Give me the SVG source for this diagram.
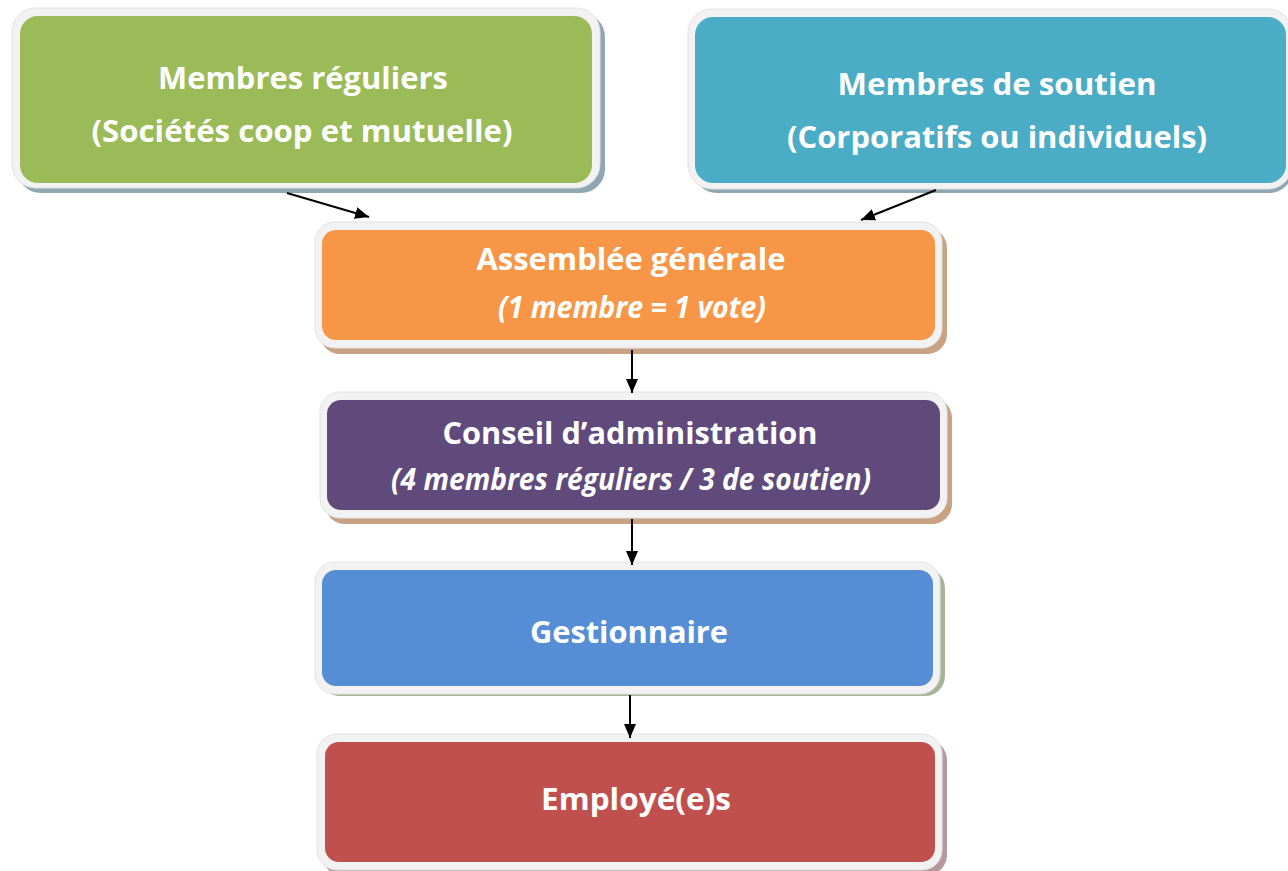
<svg xmlns="http://www.w3.org/2000/svg" width="1288" height="871" viewBox="0 0 1288 871">
<defs>
<style>
.frame{fill:#f2f2f2;stroke:#e2e2e2;stroke-width:1}
.t{font-family:"Open Sans","Noto Sans",sans-serif;font-weight:bold;fill:#ffffff;text-anchor:middle;font-size:31px}
.i{font-style:italic}
.c{stroke:#000;stroke-width:2;fill:none;marker-end:url(#ah)}
</style>
<marker id="ah" viewBox="0 0 14 12" refX="14" refY="6" markerWidth="14" markerHeight="12" orient="auto" markerUnits="userSpaceOnUse">
<path d="M0,0 L14,6 L0,12 z" fill="#000"/>
</marker>
</defs>
<rect width="1288" height="871" fill="#ffffff"/>

<g id="n-reguliers">
<rect x="17" y="13" width="588" height="180" rx="24" fill="#8ea7b3"/>
<rect class="frame" x="12" y="8" width="588" height="180" rx="24"/>
<rect x="20" y="16" width="572" height="167" rx="18" fill="#9bbb59"/>
<text class="t" x="303" y="89" textLength="290" lengthAdjust="spacingAndGlyphs">Membres réguliers</text>
<text class="t" x="302" y="142" textLength="421" lengthAdjust="spacingAndGlyphs">(Sociétés coop et mutuelle)</text>
</g>

<g id="n-soutien">
<rect x="693" y="13" width="600" height="180" rx="24" fill="#8ea7b3"/>
<rect class="frame" x="688" y="9" width="604" height="180" rx="24"/>
<rect x="695" y="17" width="591" height="166" rx="18" fill="#4bacc6"/>
<text class="t" x="997" y="95" textLength="319" lengthAdjust="spacingAndGlyphs">Membres de soutien</text>
<text class="t" x="997" y="148" textLength="420" lengthAdjust="spacingAndGlyphs">(Corporatifs ou individuels)</text>
</g>

<g id="n-assemblee">
<rect x="320" y="228" width="627" height="126" rx="20" fill="#c9a283"/>
<rect class="frame" x="315" y="222" width="627" height="126" rx="20"/>
<rect x="322" y="230" width="613" height="110" rx="14" fill="#f79646"/>
<text class="t" x="631" y="270" textLength="309" lengthAdjust="spacingAndGlyphs">Assemblée générale</text>
<text class="t i" x="632" y="318" font-size="28" textLength="268" lengthAdjust="spacingAndGlyphs">(1 membre = 1 vote)</text>
</g>

<g id="n-conseil">
<rect x="325" y="398" width="627" height="126" rx="20" fill="#c9a283"/>
<rect class="frame" x="320" y="392" width="627" height="126" rx="20"/>
<rect x="327" y="400" width="613" height="110" rx="14" fill="#604a7b"/>
<text class="t" x="630" y="444" textLength="375" lengthAdjust="spacingAndGlyphs">Conseil d’administration</text>
<text class="t i" x="631" y="490" font-size="28" textLength="480" lengthAdjust="spacingAndGlyphs">(4 membres réguliers / 3 de soutien)</text>
</g>

<g id="n-gestionnaire">
<rect x="320" y="568" width="625" height="128" rx="20" fill="#a8b498"/>
<rect class="frame" x="315" y="562" width="625" height="132" rx="20"/>
<rect x="322" y="570" width="611" height="116" rx="14" fill="#558ed5"/>
<text class="t" x="629" y="643" textLength="198" lengthAdjust="spacingAndGlyphs">Gestionnaire</text>
</g>

<g id="n-employes">
<rect x="322" y="740" width="625" height="135" rx="20" fill="#b69aa0"/>
<rect class="frame" x="317" y="734" width="625" height="136" rx="20"/>
<rect x="325" y="742" width="610" height="120" rx="14" fill="#c0504d"/>
<text class="t" x="636" y="810" textLength="190" lengthAdjust="spacingAndGlyphs">Employé(e)s</text>
</g>

<g id="connectors">
<line class="c" x1="287" y1="193" x2="369" y2="217"/>
<line class="c" x1="936" y1="190" x2="861" y2="220"/>
<line class="c" x1="632" y1="350" x2="632" y2="393"/>
<line class="c" x1="632" y1="519" x2="632" y2="565"/>
<line class="c" x1="630" y1="695" x2="630" y2="738"/>
</g>
</svg>
